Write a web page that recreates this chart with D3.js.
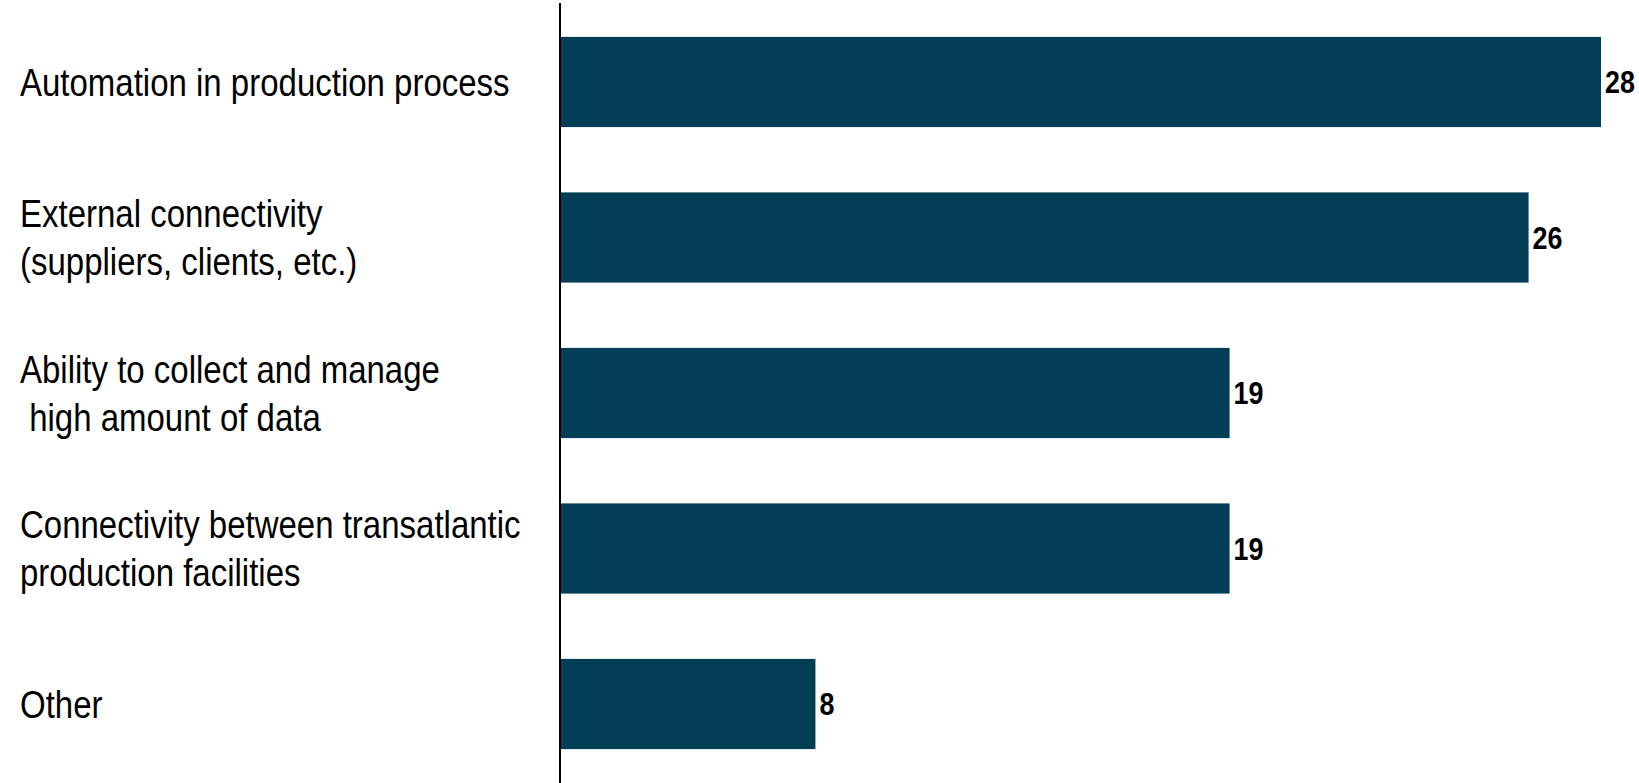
<!DOCTYPE html>
<html>
<head>
<meta charset="utf-8">
<script src="https://cdn.jsdelivr.net/npm/d3@7"></script>
<style>
  html, body { margin: 0; padding: 0; background: #ffffff; }
  svg { display: block; }
  text { white-space: pre; }
</style>
</head>
<body>
<svg id="chart" width="1639" height="783"></svg>
<script>
// Data
const categories = [
  ["Automation in production process"],
  ["External connectivity", "(suppliers, clients, etc.)"],
  ["Ability to collect and manage", " high amount of data"],
  ["Connectivity between transatlantic", "production facilities"],
  ["Other"]
];
const categoryKeys = ["automation", "external", "data", "transatlantic", "other"];
const values = [28, 26.05, 18, 18, 6.85];
const valueLabels = ["28", "26", "19", "19", "8"];

const W = 1639, H = 783;
const axisX = 560;
const svg = d3.select("#chart");

const x = d3.scaleLinear().domain([0, 28]).range([axisX + 1, 1601]);
const y = d3.scaleBand().domain(categoryKeys).range([3, 783])
  .paddingInner(0.42).paddingOuter(0.218);

const catFont = 38.5, valFont = 32;
const narrowCat = 0.857, narrowVal = 0.84;
const fontFam = "'Liberation Sans', Arial, sans-serif";

// Bars
svg.append("g").selectAll("rect")
  .data(values)
  .join("rect")
  .attr("x", x(0))
  .attr("y", (d, i) => y(categoryKeys[i]))
  .attr("width", d => x(d) - x(0))
  .attr("height", y.bandwidth())
  .attr("fill", "#033e57");

// Value labels (condensed)
svg.append("g").selectAll("text")
  .data(values)
  .join("text")
  .attr("transform", (d, i) => {
    const tx = x(d) + 4;
    const ty = y(categoryKeys[i]) + y.bandwidth() / 2 + valFont * 0.358;
    return `translate(${tx},${ty}) scale(${narrowVal},1)`;
  })
  .attr("font-family", fontFam)
  .attr("font-weight", "bold")
  .attr("font-size", valFont)
  .attr("fill", "#000")
  .text((d, i) => valueLabels[i]);

// Category labels (condensed)
const lineH = 48;
const lab = svg.append("g").selectAll("text")
  .data(categories)
  .join("text")
  .attr("font-family", fontFam)
  .attr("font-size", catFont)
  .attr("fill", "#000")
  .attr("transform", (d, i) => {
    const c = y(categoryKeys[i]) + y.bandwidth() / 2;
    const ty = c + catFont * 0.358 - (d.length - 1) * lineH / 2;
    return `translate(20,${ty}) scale(${narrowCat},1)`;
  });
lab.each(function(d) {
  const t = d3.select(this);
  d.forEach((line, j) => {
    t.append("tspan").attr("x", 0).attr("dy", j === 0 ? 0 : lineH).text(line);
  });
});

// Axis (y axis line only)
const yAxis = d3.axisLeft(y).tickSize(0).tickFormat("");
const ax = svg.append("g").attr("transform", `translate(${axisX},0)`).call(yAxis);
ax.select(".domain").attr("stroke", "#000").attr("stroke-width", 2)
  .attr("d", `M0,3V783`);
</script>
</body>
</html>
